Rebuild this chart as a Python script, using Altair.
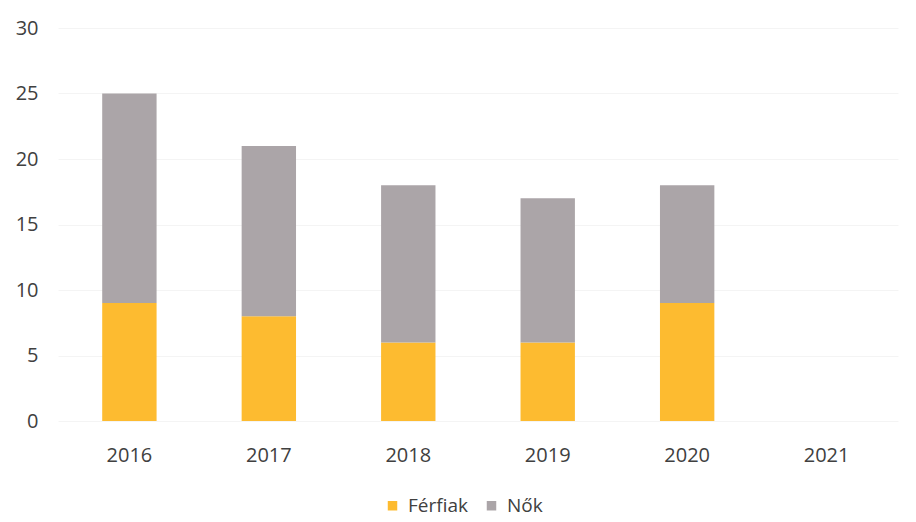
import altair as alt
import pandas as pd

years = ["2016", "2017", "2018", "2019", "2020", "2021"]
ferfiak = [9, 8, 6, 6, 9, None]
nok = [16, 13, 12, 11, 9, None]
series = ["Férfiak", "Nők"]
colors = ["#FDBB30", "#ABA5A8"]

rows = []
for i, y in enumerate(years):
    if ferfiak[i] is not None:
        rows.append({"year": y, "series": series[0], "value": ferfiak[i], "ord": 0})
    if nok[i] is not None:
        rows.append({"year": y, "series": series[1], "value": nok[i], "ord": 1})
df = pd.DataFrame(rows)

font = "Open Sans"

chart = alt.Chart(df).mark_bar().encode(
    x=alt.X("year:N", scale=alt.Scale(domain=years, paddingInner=0.61, paddingOuter=0.317),
            axis=alt.Axis(title=None, labelAngle=0, ticks=False, domain=False,
                          labelPadding=24, labelFontSize=20, labelColor="#404040",
                          labelFont=font)),
    y=alt.Y("value:Q", scale=alt.Scale(domain=[0, 30]),
            axis=alt.Axis(title=None, values=[0, 5, 10, 15, 20, 25, 30], ticks=False,
                          domain=False, labelPadding=20, labelFontSize=20,
                          labelColor="#404040", labelFont=font, gridColor="#F4F4F4")),
    color=alt.Color("series:N", scale=alt.Scale(domain=series, range=colors),
                    legend=alt.Legend(title=None, orient="none", direction="horizontal",
                                      legendX=325, legendY=468,
                                      symbolType="square", symbolSize=90,
                                      labelFontSize=19, labelColor="#404040", labelFont=font,
                                      columnPadding=14, labelOffset=6)),
    order=alt.Order("ord:Q"),
).properties(
    width=840, height=393,
    autosize=alt.AutoSizeParams(type="none"),
    padding={"left": 50, "top": 20, "right": 10, "bottom": 99},
).configure_view(stroke=None)

chart.save("out.html", embed_options={"renderer": "svg", "actions": False})
